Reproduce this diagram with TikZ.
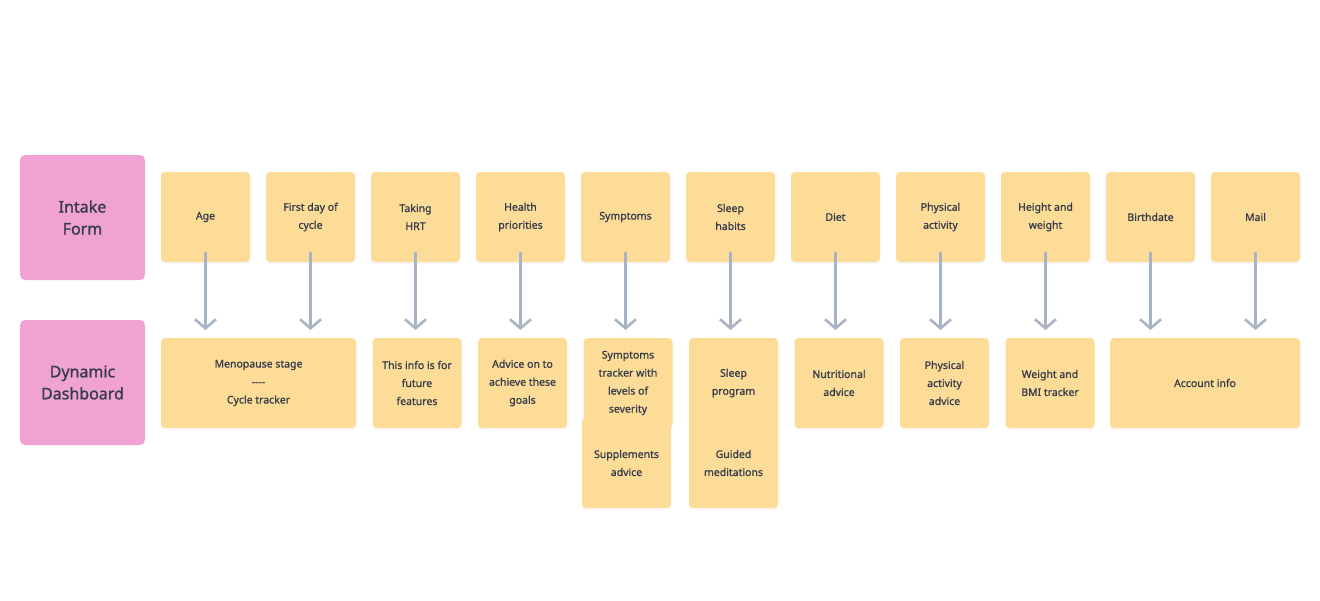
\documentclass[tikz,border=0pt]{standalone}
\usepackage{fontspec}
\setmainfont{Noto Sans}
\newfontfamily\cardfont{Noto Sans}[FakeBold=1.0]
\newfontfamily\tagfont{Noto Sans}[FakeBold=1.2]
\usetikzlibrary{arrows.meta,positioning,shadows}

\definecolor{cardyellow}{HTML}{FDDC97}
\definecolor{tagpink}{HTML}{F0A3D3}
\definecolor{flowgray}{HTML}{A8B3C3}
\definecolor{inkgray}{HTML}{363B4B}

\begin{document}
\begin{tikzpicture}[x=1pt, y=1pt,
      node distance=16pt and 16pt,
      card/.style={fill=cardyellow, rounded corners=4pt, align=center,
                   text=inkgray, font=\cardfont\fontsize{10.5}{18}\selectfont,
                   minimum width=89pt, minimum height=90pt, inner sep=2pt, outer sep=0pt,
                   drop shadow={opacity=0.06, shadow xshift=0pt, shadow yshift=-2pt}},
      widecard/.style={card, minimum width=195pt},
      tag/.style={fill=tagpink, rounded corners=5pt, align=center, outer sep=0pt,
                  text=inkgray, font=\tagfont\fontsize{16}{22}\selectfont,
                  minimum width=125pt, minimum height=125pt},
      flow/.style={draw=flowgray, line width=2.6pt,
                   -{Straight Barb[length=9pt, width=21pt]}}]
    \useasboundingbox (0,0) rectangle (1320,-600);

    % row labels
    \node[tag, anchor=north west] (intake) at (20,-155) {Intake\\Form};
    \node[tag, anchor=north west] (dashboard) at (20,-320) {Dynamic\\Dashboard};

    % intake form fields
    \node[card, anchor=north west] (age) at (161,-172) {Age};
    \node[card, right=of age] (cycle) {First day of\\cycle};
    \node[card, right=of cycle] (hrt) {Taking\\HRT};
    \node[card, right=of hrt] (health) {Health\\priorities};
    \node[card, right=of health] (symptoms) {Symptoms};
    \node[card, right=of symptoms] (sleep) {Sleep\\habits};
    \node[card, right=of sleep] (diet) {Diet};
    \node[card, right=of diet] (activity) {Physical\\activity};
    \node[card, right=of activity] (height) {Height and\\weight};
    \node[card, right=of height] (birthdate) {Birthdate};
    \node[card, right=of birthdate] (mail) {Mail};

    % dashboard modules
    \node[widecard, anchor=north west] (stage) at (161,-338) {Menopause stage\\-{}-{}-{}-\\Cycle tracker};
    \node[card, right=16.5pt of stage] (future) {This info is for\\future\\features};
    \node[card, right=16.5pt of future] (advice) {Advice on to\\achieve these\\goals};
    \node[card, right=16.5pt of advice] (tracker) {Symptoms\\tracker with\\levels of\\severity};
    \node[card, right=16.5pt of tracker] (program) {Sleep\\program};
    \node[card, right=16.5pt of program] (nutrition) {Nutritional\\advice};
    \node[card, right=16.5pt of nutrition] (activityadv) {Physical\\activity\\advice};
    \node[card, right=16.5pt of activityadv] (bmi) {Weight and\\BMI tracker};
    \node[widecard, minimum width=190pt, anchor=north east] (account) at (1300,-338) {Account info};
    \node[card, anchor=north west] (supplements) at (582,-418) {Supplements\\advice};
    \node[card, anchor=north west] (meditation) at (689,-418) {Guided\\meditations};

    % field -> module
    \foreach \src in {age, cycle, hrt, health, symptoms, sleep, diet, activity, height, birthdate, mail}
      \draw[flow] ([yshift=10pt]\src.south) -- ([yshift=8pt]\src.south |- stage.north);
  \end{tikzpicture}
\end{document}
